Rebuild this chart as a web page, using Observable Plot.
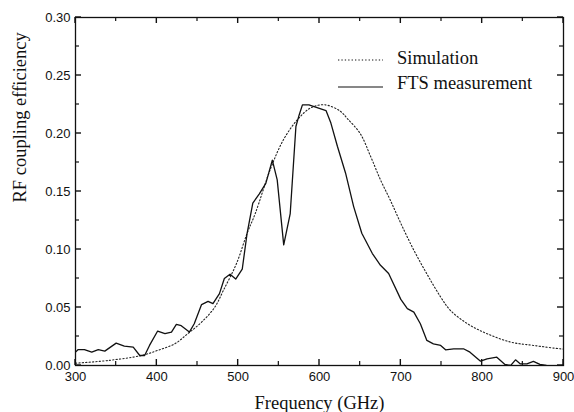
<!DOCTYPE html>
<html>
<head>
<meta charset="utf-8">
<script src="https://cdn.jsdelivr.net/npm/d3@7"></script>
<script src="https://cdn.jsdelivr.net/npm/@observablehq/plot@0.6"></script>
<style>
  html, body { margin: 0; padding: 0; background: #fff; }
  #chart { width: 574px; height: 412px; }
</style>
</head>
<body>
<div id="chart"></div>
<script>
// ---- data ----
const simFreq = [300, 340, 381, 401, 422, 438, 455, 471, 482, 498, 511, 521, 540, 556, 573, 589, 607, 626, 634, 650, 663, 675, 687, 700, 716, 732, 749, 761, 782, 806, 835, 863, 896, 900];
const simValue = [0.002, 0.0043, 0.0086, 0.013, 0.0187, 0.0274, 0.0374, 0.050, 0.065, 0.088, 0.114, 0.131, 0.170, 0.195, 0.212, 0.222, 0.2247, 0.219, 0.213, 0.200, 0.180, 0.160, 0.1426, 0.1225, 0.0994, 0.079, 0.059, 0.0475, 0.036, 0.0274, 0.0202, 0.0173, 0.0144, 0.0142];

const ftsFreq = [300, 303, 311, 320, 328, 336, 350, 360, 371, 379, 385, 391, 401, 410, 418, 424, 430, 440, 446, 455, 463, 469, 477, 483, 490, 497, 505, 511, 518, 526, 534, 542, 548, 556, 564, 571, 575, 579, 587, 608, 614, 622, 632, 642, 652, 665, 675, 685, 700, 708, 716, 724, 732, 740, 749, 755, 765, 777, 785, 798, 806, 818, 828, 835, 841, 847, 855, 863, 871, 879, 892, 900];
const ftsValue = [0.0115, 0.0136, 0.0136, 0.0115, 0.0136, 0.0124, 0.0193, 0.0167, 0.0158, 0.0086, 0.0086, 0.0173, 0.0297, 0.0274, 0.0288, 0.0354, 0.0343, 0.0288, 0.036, 0.0525, 0.0553, 0.0533, 0.062, 0.075, 0.0787, 0.0745, 0.083, 0.114, 0.140, 0.148, 0.157, 0.177, 0.160, 0.104, 0.131, 0.206, 0.216, 0.2247, 0.2247, 0.2198, 0.209, 0.189, 0.166, 0.137, 0.114, 0.0965, 0.0864, 0.0793, 0.057, 0.049, 0.046, 0.036, 0.0216, 0.0187, 0.0173, 0.0135, 0.0144, 0.0144, 0.0115, 0.0037, 0.0058, 0.0072, 0.0009, 0, 0.0049, 0.0014, 0.0014, 0.0035, 0.0009, 0, -0.003, -0.005];

const xTicks = [300, 400, 500, 600, 700, 800, 900];
const xMinorTicks = [350, 450, 550, 650, 750, 850];
const yTicks = [0, 0.05, 0.10, 0.15, 0.20, 0.25, 0.30];
const yMinorTicks = [0.025, 0.075, 0.125, 0.175, 0.225, 0.275];
const xLabel = "Frequency (GHz)";
const yLabel = "RF coupling efficiency";
const legendLabels = ["Simulation", "FTS measurement"];

// ---- tables ----
const sim = simFreq.map((f, i) => ({f, v: simValue[i]}));
const fts = ftsFreq.map((f, i) => ({f, v: ftsValue[i]}));

const W = 574, H = 412;
const mL = 75, mR = 11, mT = 17, mB = 47;
const serif = "Liberation Serif, Times New Roman, serif";
const sans = "Liberation Sans, Arial, sans-serif";
const DOTS = "1.3,2.1";

// inward ticks on all four sides, positioned through Plot's scales
function innerTicks(index, scales, values, dims) {
  const {x, y} = scales;
  const g = d3.create("svg:g");
  const left = dims.marginLeft, right = dims.width - dims.marginRight;
  const top = dims.marginTop, bottom = dims.height - dims.marginBottom;
  const seg = (x1, y1, x2, y2, sw) => g.append("line")
    .attr("x1", x1).attr("y1", y1).attr("x2", x2).attr("y2", y2)
    .attr("stroke", "#111").attr("stroke-width", sw);
  const tx = (vals, len, sw) => vals.forEach(v => {
    const px = x(v);
    seg(px, bottom, px, bottom - len, sw);
    seg(px, top, px, top + len, sw);
  });
  const ty = (vals, len, sw) => vals.forEach(v => {
    const py = y(v);
    seg(left, py, left + len, py, sw);
    seg(right, py, right - len, py, sw);
  });
  tx(xTicks, 6, 1.4); tx(xMinorTicks, 4, 1.2);
  ty(yTicks, 6, 1.4); ty(yMinorTicks, 4, 1.2);
  return g.node();
}

function legend(index, scales, values, dims) {
  const g = d3.create("svg:g");
  const x0 = dims.marginLeft + 263, x1 = dims.marginLeft + 308, tx = dims.marginLeft + 322;
  const rows = [
    {y: dims.marginTop + 43, ty: dims.marginTop + 41, dash: DOTS, sw: 1.1},
    {y: dims.marginTop + 70, ty: dims.marginTop + 66, dash: null, sw: 1.2}
  ];
  legendLabels.forEach((lab, i) => {
    const r = rows[i];
    const ln = g.append("line").attr("x1", x0).attr("x2", x1).attr("y1", r.y).attr("y2", r.y)
      .attr("stroke", "#111").attr("stroke-width", r.sw);
    if (r.dash) ln.attr("stroke-dasharray", r.dash);
    g.append("text").attr("x", tx).attr("y", r.ty).attr("dy", "0.35em")
      .attr("text-anchor", "start")
      .attr("font-family", serif).attr("font-size", 18.5).attr("fill", "#111")
      .text(lab);
  });
  return g.node();
}

const chart = Plot.plot({
  width: W,
  height: H,
  marginLeft: mL,
  marginRight: mR,
  marginTop: mT,
  marginBottom: mB,
  style: {background: "white", color: "#111", overflow: "visible", fontFamily: serif},
  x: {domain: [300, 900], axis: null},
  y: {domain: [0, 0.30], axis: null},
  marks: [
    Plot.line(sim, {x: "f", y: "v", stroke: "#222", strokeWidth: 1.1, strokeDasharray: DOTS, curve: "catmull-rom", clip: true}),
    Plot.line(fts, {x: "f", y: "v", stroke: "#111", strokeWidth: 1.3, clip: true}),
    Plot.frame({stroke: "#111", strokeWidth: 1.3}),
    innerTicks,
    Plot.text(xTicks, {x: d => d, text: d => String(d), frameAnchor: "bottom", dy: 11, lineAnchor: "middle",
      fontFamily: sans, fontSize: 13, fill: "#111"}),
    Plot.text(yTicks, {y: d => d, text: d => d.toFixed(2), frameAnchor: "left", dx: -5, textAnchor: "end",
      fontFamily: sans, fontSize: 13, fill: "#111"}),
    Plot.text([xLabel], {text: d => d, frameAnchor: "bottom", dy: 38, lineAnchor: "middle",
      fontFamily: serif, fontSize: 18.5, fill: "#111"}),
    Plot.text([yLabel], {text: d => d, frameAnchor: "left", dx: -55, dy: 11, rotate: -90, lineAnchor: "middle",
      fontFamily: serif, fontSize: 18.5, fill: "#111"}),
    legend
  ]
});
document.getElementById("chart").appendChild(chart);
</script>
</body>
</html>
